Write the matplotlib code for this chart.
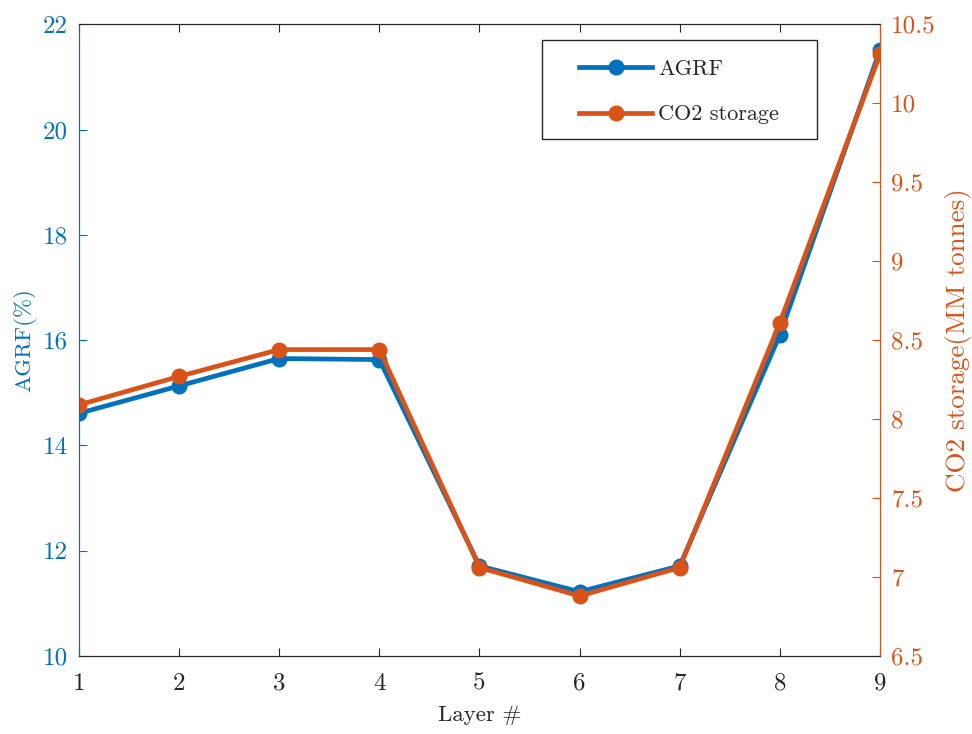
import matplotlib
matplotlib.use("Agg")
import matplotlib.pyplot as plt
from matplotlib.patches import Rectangle
from matplotlib.ticker import FuncFormatter

plt.rcParams['font.family'] = ['cmr10', 'DejaVu Serif']
plt.rcParams['mathtext.fontset'] = 'cm'
plt.rcParams['axes.unicode_minus'] = False

layers = [1, 2, 3, 4, 5, 6, 7, 8, 9]
agrf = [14.61, 15.13, 15.65, 15.63, 11.71, 11.22, 11.71, 16.10, 21.51]
co2_storage = [8.09, 8.27, 8.44, 8.44, 7.06, 6.88, 7.06, 8.61, 10.31]

blue = '#0072BD'
orange = '#D95319'
dark = '#262626'

fig = plt.figure(figsize=(9.72, 7.34), dpi=100)
ax1 = fig.add_axes([0.0813, 0.1063, 0.824, 0.8607])
ax2 = ax1.twinx()

l1, = ax1.plot(layers, agrf, color=blue, lw=3.4, marker='o', ms=10.5, label='AGRF')
l2, = ax2.plot(layers, co2_storage, color=orange, lw=3.4, marker='o', ms=10.5, label='CO2 storage')

ax1.set_xlim(1, 9)
ax1.set_ylim(10, 22)
ax1.set_yticks([10, 12, 14, 16, 18, 20, 22])
ax2.set_ylim(6.5, 10.5)
ax2.set_yticks([6.5, 7, 7.5, 8, 8.5, 9, 9.5, 10, 10.5])
ax2.yaxis.set_major_formatter(FuncFormatter(lambda v, p: '%g' % v))

tick_fs = 18
ax1.tick_params(axis='x', direction='in', top=True, colors=dark, labelsize=tick_fs, length=6, pad=12)
ax1.tick_params(axis='y', direction='in', colors=blue, labelsize=tick_fs, length=6, pad=8)
ax2.tick_params(axis='y', direction='in', colors=orange, labelsize=tick_fs, length=6, pad=8)

for ax in (ax1, ax2):
    ax.spines['top'].set_color(dark)
    ax.spines['bottom'].set_color(dark)
    ax.spines['left'].set_color(blue)
    ax.spines['right'].set_color(orange)

ax1.set_xlabel('Layer #', fontsize=16.5, color=dark, labelpad=7.5)
ax1.set_ylabel('AGRF(%)', fontsize=16.5, color=blue, labelpad=5)
ax2.set_ylabel('CO2 storage(MM tonnes)', fontsize=19.5, color=orange, labelpad=7)

# legend box (MATLAB style: wide white frame)
box = Rectangle((0.578, 0.818), 0.3433, 0.1566, transform=ax2.transAxes,
                facecolor='white', edgecolor=dark, lw=1.0, zorder=4.5)
ax2.add_patch(box)

leg = ax2.legend(handles=[l1, l2], loc='upper left', bbox_to_anchor=(0.6242, 0.945),
                 fontsize=16, handlelength=3.3, borderpad=0, labelspacing=1.18,
                 borderaxespad=0, frameon=False, handletextpad=0.27)
leg.set_zorder(5)
for t in leg.get_texts():
    t.set_color(dark)

fig.savefig('out.png', dpi=100)
